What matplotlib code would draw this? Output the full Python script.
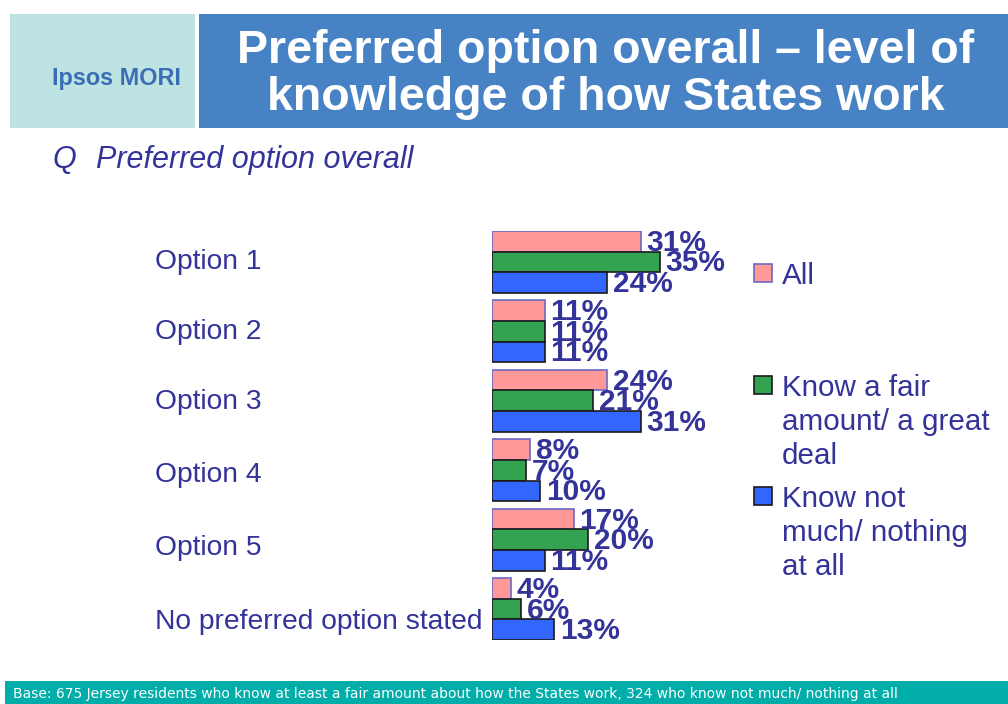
import matplotlib
matplotlib.use("Agg")
import matplotlib.pyplot as plt
from matplotlib.patches import Rectangle

categories = ["Option 1", "Option 2", "Option 3", "Option 4", "Option 5", "No preferred option stated"]
series_names = ["All", "Know a fair\namount/ a great\ndeal", "Know not\nmuch/ nothing\nat all"]
all_vals = [31, 11, 24, 8, 17, 4]
fair_vals = [35, 11, 21, 7, 20, 6]
notmuch_vals = [24, 11, 31, 10, 11, 13]
series_vals = [all_vals, fair_vals, notmuch_vals]
colors = ["#FF9999", "#33A352", "#3366FF"]
edges = ["#6A6AC0", "#1a1a1a", "#1a1a1a"]

TXT = "#333399"
W, H = 1008, 704
fig = plt.figure(figsize=(W / 100, H / 100), dpi=100)
fig.patch.set_facecolor("white")

def fx(px):
    return px / W

def fy(py):
    return 1 - py / H

# header boxes
fig.patches.append(Rectangle((fx(10), fy(128)), fx(185), 114 / H, transform=fig.transFigure,
                             facecolor="#BDE3E2", edgecolor="none"))
fig.patches.append(Rectangle((fx(199), fy(128)), fx(809), 114 / H, transform=fig.transFigure,
                             facecolor="#4682C4", edgecolor="none"))
fig.text(fx(116), fy(79), "Ipsos MORI", color="#3A6DB5", fontsize=16.8, fontweight="bold",
         ha="center", va="center", family="Liberation Sans")
fig.text(fx(606), fy(51), "Preferred option overall \u2013 level of", color="white", fontsize=33.5,
         fontweight="bold", ha="center", va="center", family="Liberation Sans")
fig.text(fx(606), fy(98), "knowledge of how States work", color="white", fontsize=33.5,
         fontweight="bold", ha="center", va="center", family="Liberation Sans")

fig.text(fx(52), fy(160), "Q", color=TXT, fontsize=22, style="italic", ha="left", va="center",
         family="Liberation Sans")
fig.text(fx(96), fy(160), "Preferred option overall", color=TXT, fontsize=22, style="italic",
         ha="left", va="center", family="Liberation Sans")

# footer
fig.patches.append(Rectangle((fx(5), 0), fx(1003), 23 / H, transform=fig.transFigure,
                             facecolor="#00ADA8", edgecolor="none"))
fig.text(fx(13), fy(694), "Base: 675 Jersey residents who know at least a fair amount about how the States work, 324 who know not much/ nothing at all",
         color="white", fontsize=10, ha="left", va="center",
         family=["Liberation Sans Narrow", "DejaVu Sans"])

# axes
px_per_pct = 4.8
xmax = 100
ax = fig.add_axes([fx(492), fy(640), fx(xmax * px_per_pct), 409 / H])
h = 0.295
ax.set_xlim(0, xmax)
ax.set_ylim(5 + 1.5 * h, -1.5 * h)
ax.axis("off")

for s, vals in enumerate(series_vals):
    for i, v in enumerate(vals):
        y = i + (s - 1) * h
        ax.barh(y, v, height=h, color=colors[s], edgecolor=edges[s], linewidth=1.2, zorder=2)
        ax.text(v + 1.2, y + 0.02, f"{v}%", color=TXT, fontsize=21.5, fontweight="bold",
                ha="left", va="center", family="Liberation Sans", zorder=3)

# category labels (slide text placed independently of the bars)
label_y_px = [262, 332, 402, 475, 548, 622]
for c, ypx in zip(categories, label_y_px):
    fig.text(fx(155), fy(ypx), c, color=TXT, fontsize=20.3, ha="left", va="center",
             family="Liberation Sans")

# legend
leg_y = [273, 385, 496]
leg_fs = 21.3
line_px = 34
for s, name in enumerate(series_names):
    fig.patches.append(Rectangle((fx(754), fy(leg_y[s] + 9)), fx(18), 18 / H, transform=fig.transFigure,
                                 facecolor=colors[s], edgecolor=edges[s], linewidth=1.2))
    for k, line in enumerate(name.split("\n")):
        cy = leg_y[s] + k * line_px
        fig.text(fx(782), fy(cy + 0.358 * leg_fs * 100 / 72), line, color=TXT, fontsize=leg_fs,
                 ha="left", va="baseline", family="Liberation Sans")

fig.savefig("out.png", dpi=100, facecolor="white")
